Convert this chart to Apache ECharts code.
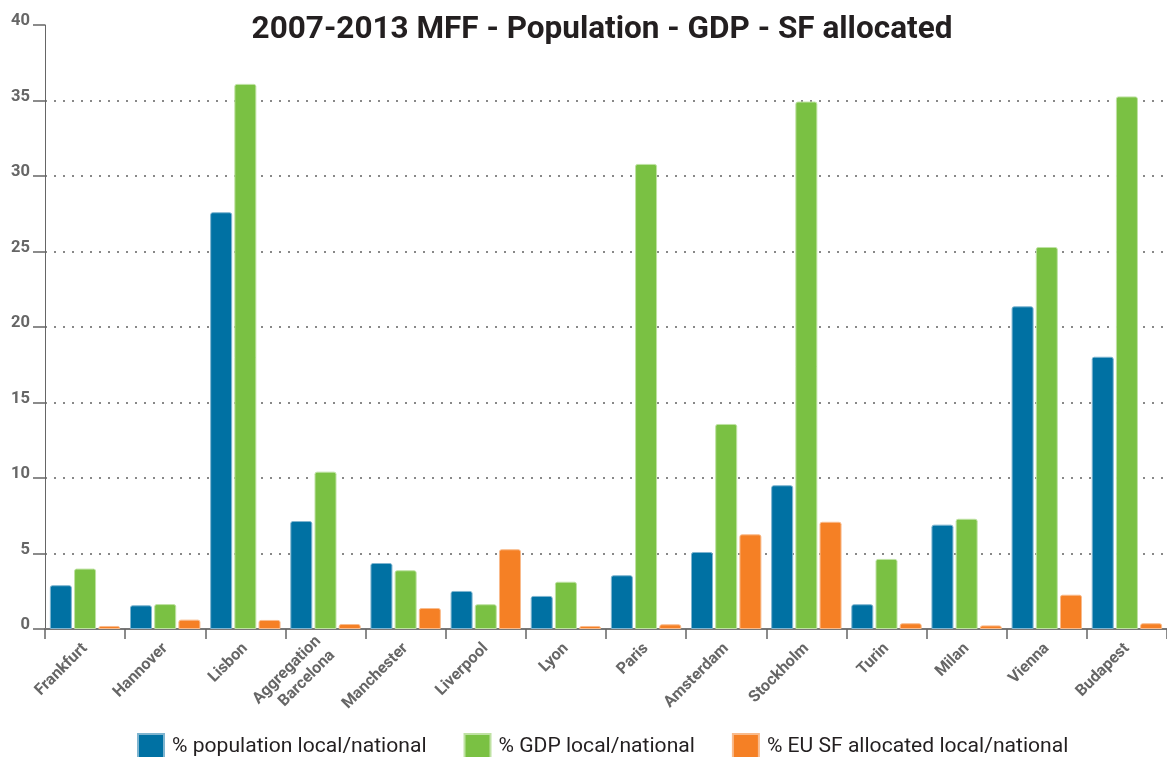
<!DOCTYPE html>
<html>
<head>
<meta charset="utf-8">
<script src="https://cdn.jsdelivr.net/npm/echarts@6/dist/echarts.min.js"></script>
<style>
  html, body { margin: 0; padding: 0; background: #fff; }
  #chart { width: 1167px; height: 757px; }
</style>
</head>
<body>
<div id="chart"></div>
<script>
// Cities compared in the 2007-2013 multiannual financial framework
const cities = ['Frankfurt', 'Hannover', 'Lisbon', 'Aggregation\nBarcelona', 'Manchester',
  'Liverpool', 'Lyon', 'Paris', 'Amsterdam', 'Stockholm', 'Turin', 'Milan', 'Vienna', 'Budapest'];

// Shares of the national totals, in %
const populationShare = [2.9, 1.57, 27.6, 7.15, 4.37, 2.52, 2.19, 3.56, 5.1, 9.52, 1.64, 6.91, 21.37, 18.03];
const gdpShare        = [4.0, 1.65, 36.1, 10.42, 3.89, 1.64, 3.13, 30.8, 13.58, 34.93, 4.64, 7.3, 25.3, 35.27];
const sfShare         = [0.2, 0.62, 0.6, 0.33, 1.39, 5.28, 0.2, 0.31, 6.27, 7.1, 0.38, 0.24, 2.27, 0.38];

const seriesNames = ['% population local/national', '% GDP local/national', '% EU SF allocated local/national'];
const chartTitle = '2007-2013 MFF - Population - GDP - SF allocated';

const FONT = 'Roboto, "Noto Sans", sans-serif';

function barSeries(name, data, color, edge) {
  return {
    name: name,
    type: 'bar',
    data: data,
    barWidth: 22,
    barGap: '10%',
    itemStyle: { color: color, borderColor: edge, borderWidth: 1, borderRadius: [2, 2, 0, 0] },
    emphasis: { disabled: true }
  };
}

const chart = echarts.init(document.getElementById('chart'), null, { renderer: 'canvas' });
chart.setOption({
  animation: false,
  backgroundColor: '#ffffff',
  title: {
    text: chartTitle,
    left: 602,
    top: 14,
    padding: 0,
    textAlign: 'center',
    textStyle: { fontFamily: FONT, fontSize: 31.5, fontWeight: 'bold', color: '#231f20' }
  },
  legend: {
    left: 137,
    top: 733,
    padding: 0,
    itemWidth: 26,
    itemHeight: 26,
    itemGap: 37,
    icon: 'rect',
    textStyle: { fontFamily: FONT, fontSize: 21.1, color: '#231f20', padding: [0, 0, 0, 3] },
    data: seriesNames
  },
  grid: { left: 45, right: -7, top: 25, bottom: 128, containLabel: false },
  xAxis: {
    type: 'category',
    data: cities,
    boundaryGap: true,
    axisLine: { show: true, lineStyle: { color: '#777', width: 2 } },
    axisTick: { show: true, length: 10, lineStyle: { color: '#666', width: 1.5 } },
    axisLabel: {
      rotate: 45,
      margin: 17,
      interval: 0,
      fontFamily: FONT,
      fontSize: 16,
      fontWeight: 'bold',
      color: '#666',
      lineHeight: 20
    },
    splitLine: { show: false }
  },
  yAxis: {
    type: 'value',
    min: 0,
    max: 40,
    interval: 5,
    axisLine: { show: true, lineStyle: { color: '#666', width: 1 } },
    axisTick: { show: true, length: 12, lineStyle: { color: '#666', width: 1.5 } },
    axisLabel: {
      margin: 15,
      fontFamily: FONT,
      fontSize: 16.5,
      fontWeight: 'bold',
      color: '#666',
      verticalAlign: 'bottom',
      lineHeight: 8
    },
    splitLine: {
      show: true,
      showMaxLine: false,
      lineStyle: { color: '#888', width: 2, type: [2, 7] }
    }
  },
  series: [
    barSeries(seriesNames[0], populationShare, '#0071a3', '#7fb5d0'),
    barSeries(seriesNames[1], gdpShare, '#7ac143', '#bfe2a3'),
    barSeries(seriesNames[2], sfShare, '#f58025', '#f9bb8c')
  ]
});
</script>
</body>
</html>
